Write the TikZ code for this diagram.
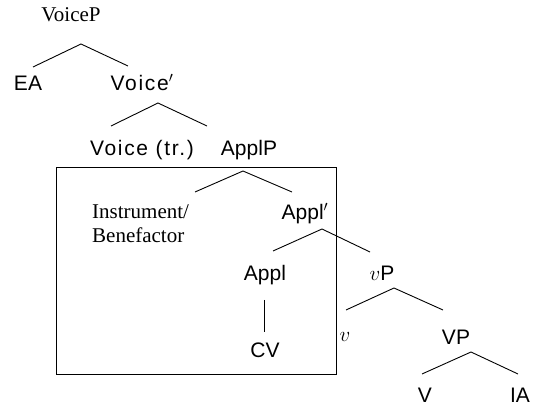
\RequirePackage{fix-cm}
\documentclass[tikz,border=0pt]{standalone}
\usepackage{fontspec}
\setmainfont{Liberation Serif}
\setsansfont{Liberation Sans}
\newfontfamily\widesans[LetterSpace=8]{Liberation Sans}
\begin{document}
\begin{tikzpicture}[x=1pt,y=-1pt,
  lbl/.style={inner sep=0pt,text height=15pt,text depth=0pt,font=\sffamily\fontsize{21}{25}\selectfont},
  wlbl/.style={inner sep=0pt,text height=15pt,text depth=0pt,font=\widesans\fontsize{21}{25}\selectfont},
  slbl/.style={inner sep=0pt,text height=14pt,text depth=0pt,font=\rmfamily\fontsize{21}{25}\selectfont},
  br/.style={line width=0.9pt,black}]
\useasboundingbox (0,0) rectangle (539,406);
% labels
\node[slbl] (VoiceP) at (71,15) {VoiceP};
\node[lbl] (EA) at (28,83) {EA};
\node[wlbl] (Voicebar) at (142,83) {Voice$'$};
\node[wlbl] (Voicetr) at (142,148) {Voice (tr.)};
\node[lbl] (ApplP) at (249,148) {ApplP};
\node[slbl,anchor=west] (Instr) at (92,212) {Instrument/};
\node[slbl,anchor=west] (Bene) at (92,236) {Benefactor};
\node[lbl] (Applbar) at (305,212) {Appl$'$};
\node[lbl] (Appl) at (265,273) {Appl};
\node[lbl] (vP) at (382,273) {$v$P};
\node[lbl] (CV) at (265,350) {CV};
\node[slbl] (v) at (345,335) {$v$};
\node[lbl] (VP) at (456,337) {VP};
\node[lbl] (V) at (425,395) {V};
\node[lbl] (IA) at (520,395) {IA};
% branch points
\coordinate (VoicePb) at (81,44);
\coordinate (EAt) at (33,67);
\coordinate (Voicebart) at (128,66);
\coordinate (Voicebarb) at (158,103);
\coordinate (Voicetrt) at (111,126);
\coordinate (ApplPt) at (207,126);
\coordinate (ApplPb) at (243,171);
\coordinate (Instrt) at (195,192);
\coordinate (Applbart) at (292,192);
\coordinate (Applbarb) at (322,229);
\coordinate (Applt) at (273,251);
\coordinate (vPt) at (370,252);
\coordinate (Applb) at (264,300);
\coordinate (CVt) at (264,332);
\coordinate (vPb) at (394,288);
\coordinate (vt) at (346,310);
\coordinate (VPt) at (443,310);
\coordinate (VPb) at (471,352);
\coordinate (Vt) at (422,374);
\coordinate (IAt) at (518,374);
% branches
\draw[br] (EAt) -- (VoicePb) -- (Voicebart);
\draw[br] (Voicetrt) -- (Voicebarb) -- (ApplPt);
\draw[br] (Instrt) -- (ApplPb) -- (Applbart);
\draw[br] (Applt) -- (Applbarb) -- (vPt);
\draw[br] (Applb) -- (CVt);
\draw[br] (vt) -- (vPb) -- (VPt);
\draw[br] (Vt) -- (VPb) -- (IAt);
% box
\draw[br] (56,167) rectangle (336,374);
\end{tikzpicture}
\end{document}
